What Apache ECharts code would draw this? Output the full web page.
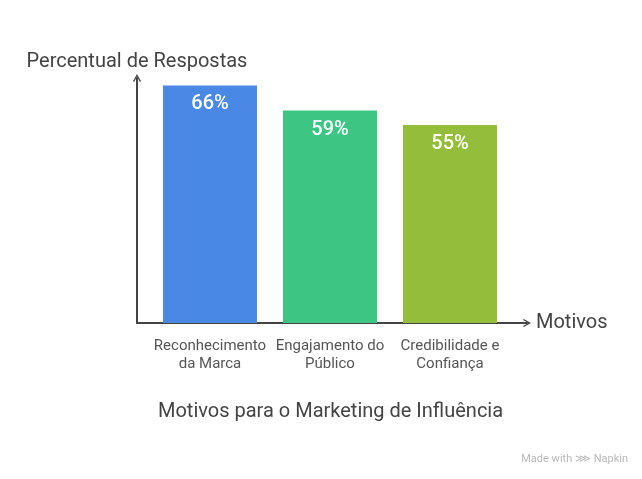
<!DOCTYPE html>
<html><head><meta charset="utf-8">
<script src="https://cdn.jsdelivr.net/npm/echarts@6/dist/echarts.min.js"></script>
<style>html,body{margin:0;padding:0;background:#fff}#c{width:642px;height:479px}</style>
</head><body><div id="c"></div>
<script>
const categories = ['Reconhecimento\nda Marca', 'Engajamento do\nPúblico', 'Credibilidade e\nConfiança'];
const values = [66, 59, 55];
const barColors = ['#4A88E6', '#3DC584', '#93BD3B'];
const yAxisTitle = 'Percentual de Respostas';
const xAxisTitle = 'Motivos';
const chartTitle = 'Motivos para o Marketing de Influência';

const chevron = 'path://M0,9 L5,0 L10,9 L8.6,10 L5,3.2 L1.4,10 Z';
const font = 'Roboto';
const chart = echarts.init(document.getElementById('c'), null, {renderer: 'canvas'});
chart.setOption({
  animation: false,
  textStyle: {fontFamily: font},
  title: {
    text: chartTitle, left: 153, top: 397,
    textStyle: {fontFamily: font, fontSize: 20, fontWeight: 'normal', color: '#444'}
  },
  graphic: [{
    type: 'text', right: 14, top: 454,
    style: {text: 'Made with ⋙ Napkin', fontFamily: font, fontSize: 11, fill: '#b8b8b8'}
  }],
  grid: [
    {left: 150, right: 132, top: 71, bottom: 156},
    {left: 137, right: 115, top: 78, bottom: 156}
  ],
  xAxis: [
    {type: 'category', gridIndex: 0, data: categories,
     axisLine: {show: false}, axisTick: {show: false},
     axisLabel: {interval: 0, margin: 14, fontSize: 15, lineHeight: 18, color: '#555', fontFamily: font}},
    {type: 'value', gridIndex: 1, min: 0, max: 1,
     name: xAxisTitle, nameLocation: 'end', nameGap: 9,
     nameTextStyle: {fontSize: 20, color: '#444', fontFamily: font, verticalAlign: 'middle'},
     axisLine: {show: true, lineStyle: {color: '#444', width: 2}, symbol: ['none', chevron], symbolSize: [13, 8]},
     axisTick: {show: false}, axisLabel: {show: false}, splitLine: {show: false}}
  ],
  yAxis: [
    {type: 'value', gridIndex: 0, min: 0, max: 70,
     axisLine: {show: false}, axisTick: {show: false}, axisLabel: {show: false}, splitLine: {show: false}},
    {type: 'value', gridIndex: 1, min: 0, max: 1,
     name: yAxisTitle, nameLocation: 'end', nameGap: 6,
     nameTextStyle: {fontSize: 20, color: '#444', fontFamily: font},
     axisLine: {show: true, lineStyle: {color: '#444', width: 2}, symbol: ['none', chevron], symbolSize: [13, 8]},
     axisTick: {show: false}, axisLabel: {show: false}, splitLine: {show: false}}
  ],
  series: [{
    type: 'bar', xAxisIndex: 0, yAxisIndex: 0,
    barWidth: 94,
    data: values.map((v, i) => ({value: v, itemStyle: {color: barColors[i]}})),
    label: {show: true, position: 'insideTop', distance: 9, formatter: '{c}%',
      color: '#fff', fontSize: 20, fontWeight: 500, fontFamily: font}
  }]
});
</script></body></html>
